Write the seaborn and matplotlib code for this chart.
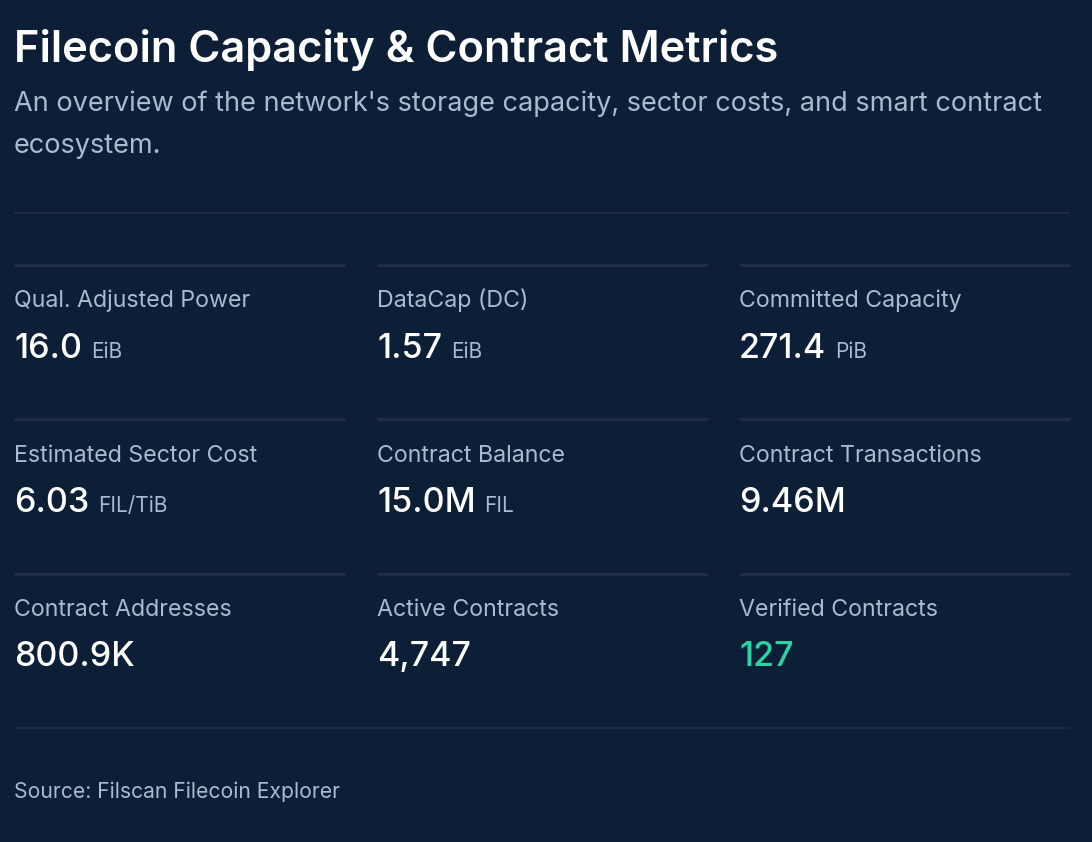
import matplotlib
matplotlib.use("Agg")
import matplotlib.pyplot as plt
import seaborn as sns

# ---- data ----
title = "Filecoin Capacity & Contract Metrics"
subtitle_lines = ["An overview of the network's storage capacity, sector costs, and smart contract",
                  "ecosystem."]
source = "Source: Filscan Filecoin Explorer"

metric_labels = ["Qual. Adjusted Power", "DataCap (DC)", "Committed Capacity",
                 "Estimated Sector Cost", "Contract Balance", "Contract Transactions",
                 "Contract Addresses", "Active Contracts", "Verified Contracts"]
metric_values = ["16.0", "1.57", "271.4",
                 "6.03", "15.0M", "9.46M",
                 "800.9K", "4,747", "127"]
metric_units = ["EiB", "EiB", "PiB",
                "FIL/TiB", "FIL", "",
                "", "", ""]
highlight = ["Verified Contracts"]

# ---- style ----
BG = "#0d1f36"
LINE = "#1d2e45"
WHITE = "#ffffff"
MUTED = "#a9bbd1"
GREEN = "#2ad4a4"

sns.set_theme(style="dark", rc={"figure.facecolor": BG, "axes.facecolor": BG})
plt.rcParams["font.family"] = ["Inter", "DejaVu Sans"]

fig = plt.figure(figsize=(10.92, 8.42), dpi=100)
ax = fig.add_axes([0, 0, 1, 1])
ax.set_xlim(0, 1092)
ax.set_ylim(842, 0)
ax.axis("off")

left = 14
right = 1070

ax.text(left, 62, title, color=WHITE, fontsize=31.3, fontweight="semibold", va="baseline")
for i, line in enumerate(subtitle_lines):
    ax.text(left, 111 + i * 42, line, color=MUTED, fontsize=19.5, va="baseline")

ax.plot([left, right], [213, 213], color=LINE, lw=1.2, solid_capstyle="butt")
ax.plot([left, right], [728, 728], color=LINE, lw=1.2, solid_capstyle="butt")

col_x = [14, 377, 739]
col_w = 331
row_top = [264.5, 418.5, 573.5]

fig.canvas.draw()
renderer = fig.canvas.get_renderer()
inv = ax.transData.inverted()

for k, (lab, val, unit) in enumerate(zip(metric_labels, metric_values, metric_units)):
    r, c = divmod(k, 3)
    x0 = col_x[c]
    y0 = row_top[r]
    ax.plot([x0, x0 + col_w], [y0, y0], color=LINE, lw=2.4, solid_capstyle="butt")
    ax.text(x0, y0 + 43, lab, color=MUTED, fontsize=16.7, va="baseline")
    vcol = GREEN if lab in highlight else WHITE
    t = ax.text(x0, y0 + 93, val, color=vcol, fontsize=24.5, fontweight="medium", va="baseline")
    if unit:
        bb = t.get_window_extent(renderer=renderer)
        xe = inv.transform((bb.x1, bb.y0))[0]
        ax.text(xe + 9, y0 + 93, unit, color=MUTED, fontsize=15, va="baseline")

ax.text(left, 798, source, color=MUTED, fontsize=15.2, va="baseline")

fig.savefig("out.png", dpi=100, facecolor=BG)
